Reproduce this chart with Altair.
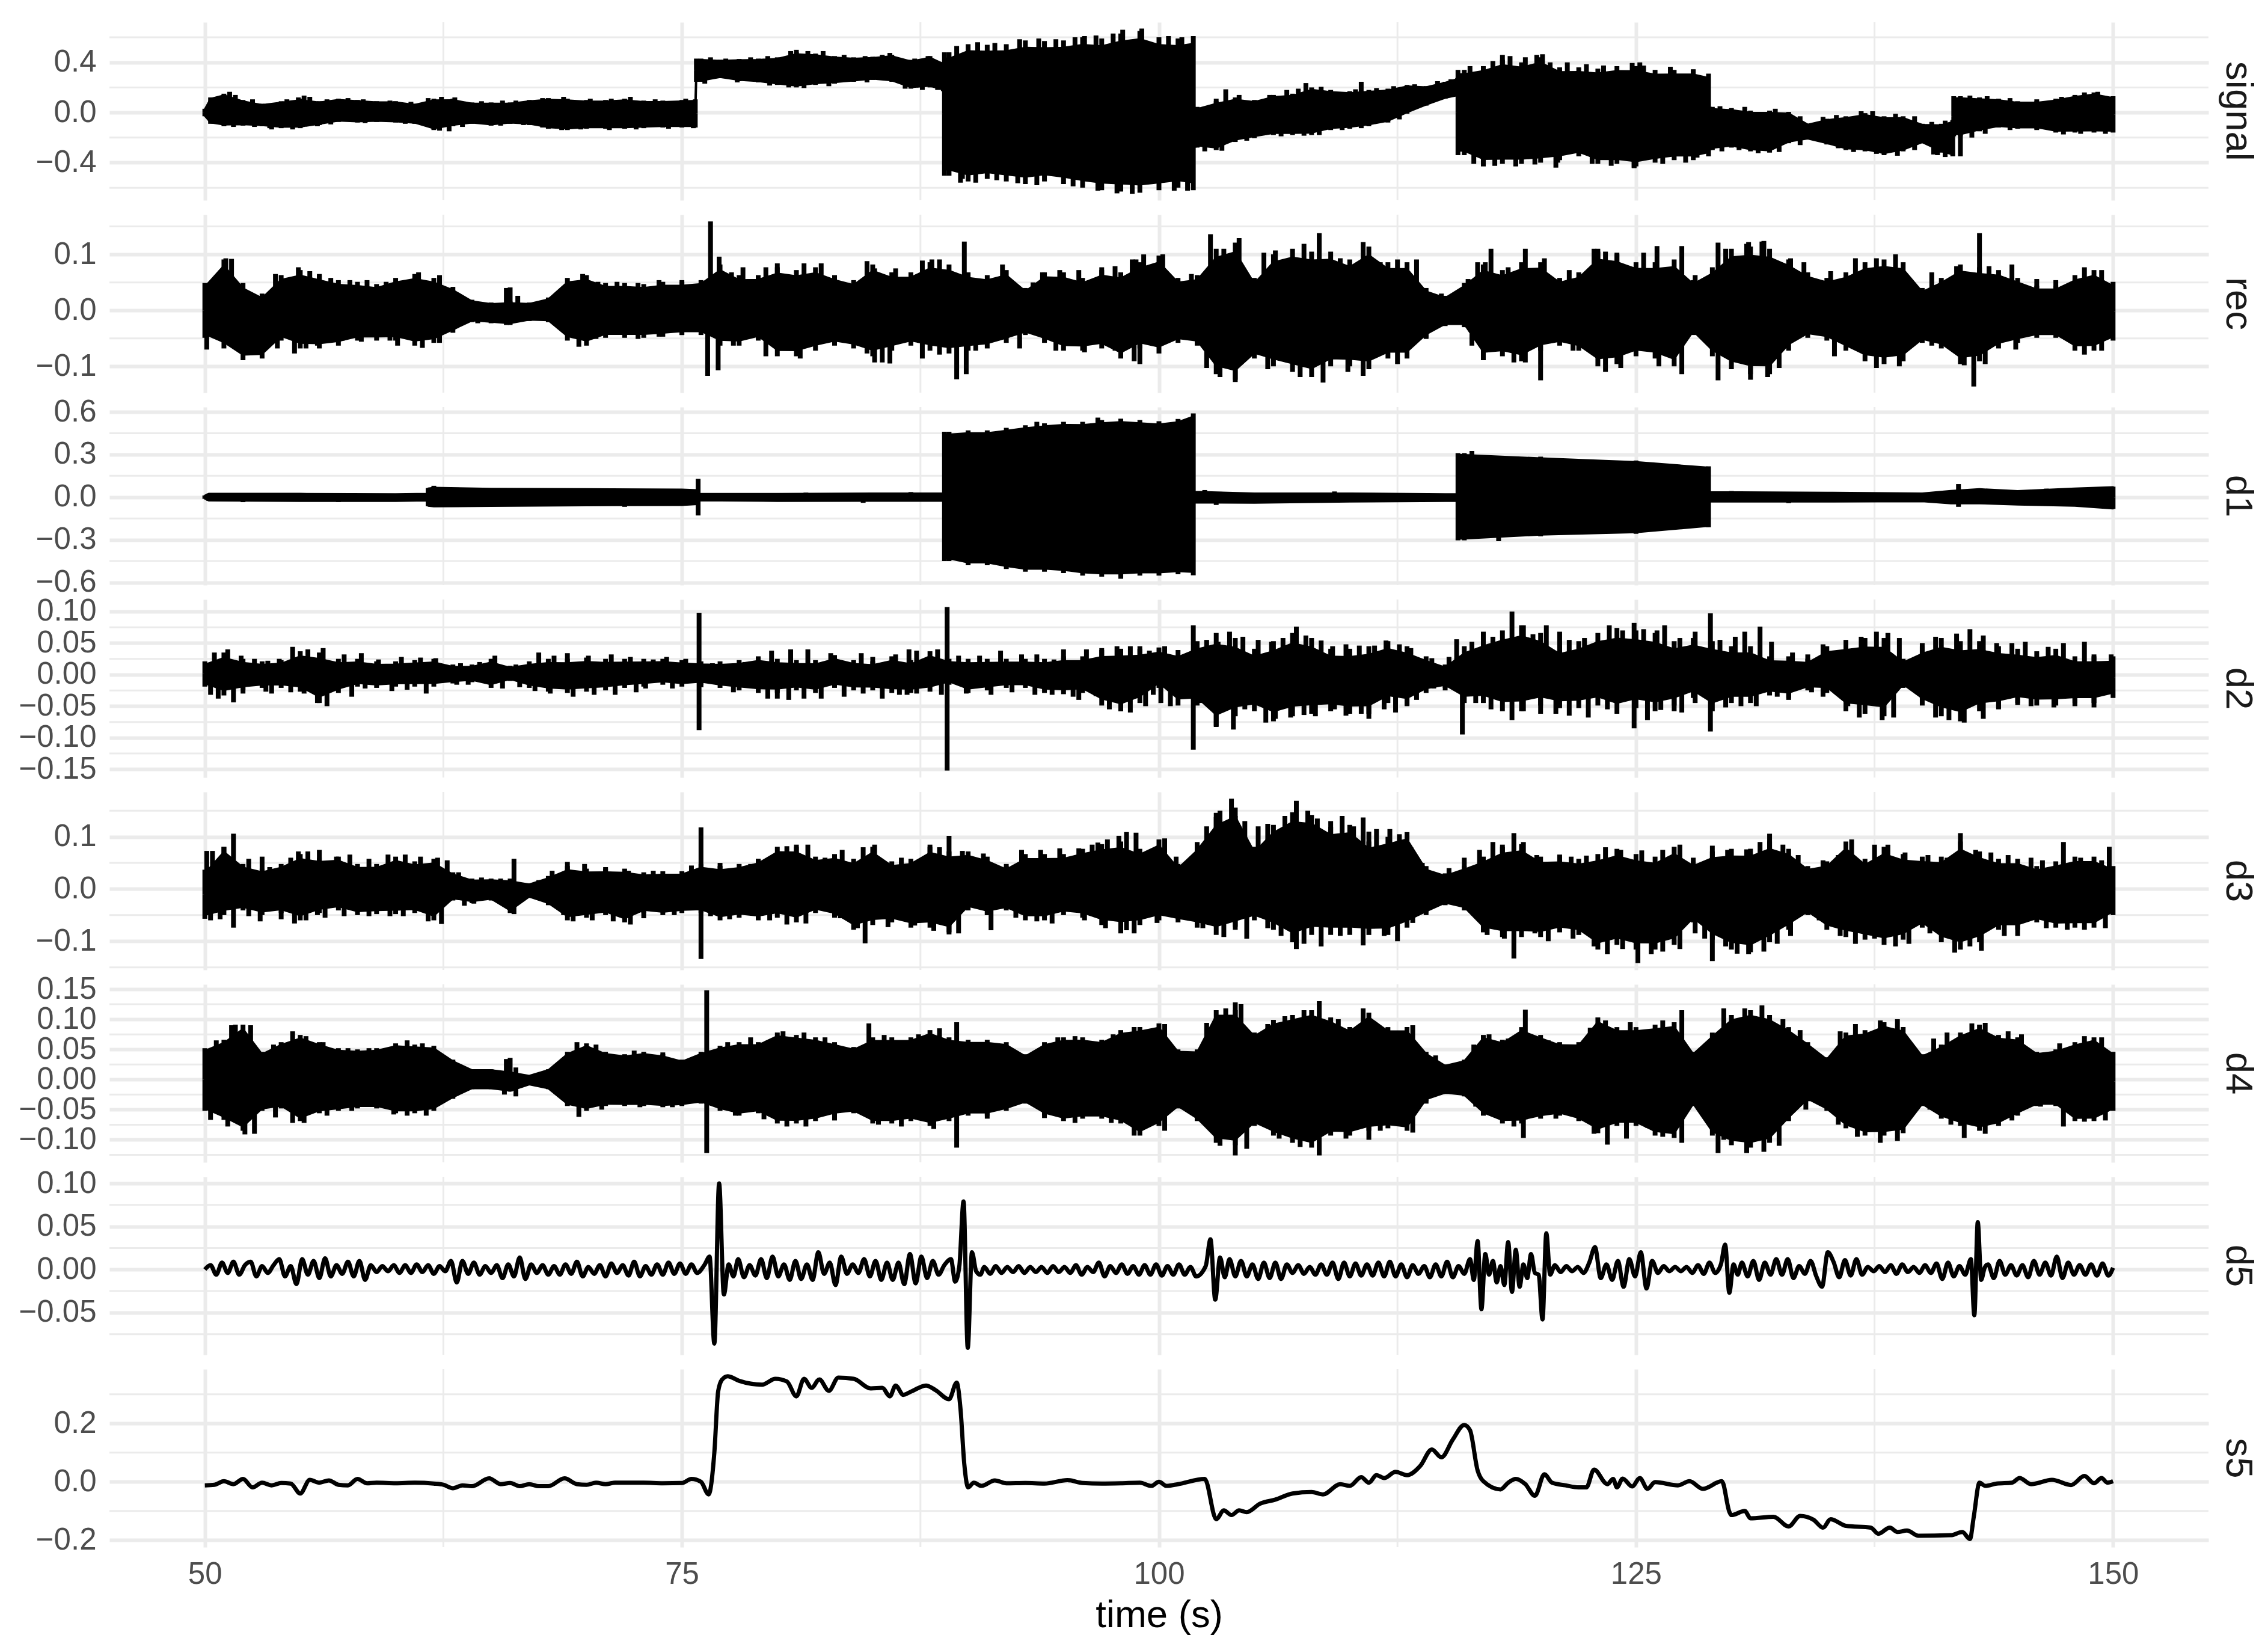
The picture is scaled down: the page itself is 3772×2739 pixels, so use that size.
import altair as alt
import numpy as np
import pandas as pd

FONT = "Liberation Sans"
ENV_T = list(range(50, 151))
MAJOR_X = [50, 75, 100, 125, 150]
MINOR_X = [62.5, 87.5, 112.5, 137.5]

sig_t = [50,50.3,51,52,53,54,55,56,57,58,59,60,61,62,63,64,65,66,67,68,69,70,71,72,73,74,75,75.7,75.76,76,77,78,79,80,81,82,83,84,85,86,87,88,88.7,88.76,89,90,91,92,93,94,95,96,97,98,99,100,101,101.8,101.85,102,103,104,105,106,107,108,109,110,111,112,113,114,115,115.65,115.67,116,117,118,119,120,121,122,123,124,125,126,127,128,128.8,128.85,129,130,131,132,133,134,135,136,137,138,139,140,141,141.6,141.65,142,143,144,145,146,147,148,149,150]
sig_up = [.03,.12,.15,.10,.07,.09,.11,.09,.11,.10,.09,.09,.07,.11,.11,.08,.08,.08,.10,.115,.11,.10,.10,.11,.095,.095,.10,.105,.43,.43,.42,.427,.43,.44,.48,.47,.45,.44,.445,.46,.42,.45,.40,.48,.48,.545,.54,.545,.575,.57,.575,.60,.59,.63,.65,.60,.59,.61,.04,.045,.09,.12,.10,.14,.15,.20,.18,.17,.18,.19,.22,.21,.245,.275,.34,.34,.37,.42,.40,.44,.36,.36,.35,.37,.37,.34,.34,.34,.31,.045,.045,.035,.015,.015,.005,-.09,-.05,-.03,-.005,-.03,-.03,-.09,-.09,-.06,.13,.13,.12,.11,.09,.09,.11,.14,.16,.13]
sig_lo = [-.03,-.09,-.11,-.105,-.11,-.125,-.125,-.10,-.075,-.08,-.075,-.08,-.09,-.14,-.11,-.09,-.105,-.09,-.10,-.13,-.14,-.13,-.13,-.13,-.125,-.12,-.12,-.12,.245,.245,.275,.25,.24,.22,.20,.22,.23,.245,.26,.245,.19,.20,.17,-.505,-.505,-.55,-.53,-.55,-.57,-.55,-.57,-.60,-.62,-.63,-.64,-.62,-.60,-.62,-.28,-.28,-.30,-.235,-.205,-.18,-.18,-.18,-.14,-.13,-.11,-.08,-.01,.055,.11,.13,-.34,-.34,-.41,-.41,-.41,-.40,-.38,-.35,-.41,-.41,-.43,-.40,-.38,-.38,-.35,-.30,-.30,-.28,-.31,-.32,-.245,-.215,-.255,-.30,-.31,-.34,-.31,-.245,-.32,-.35,-.19,-.19,-.15,-.12,-.13,-.13,-.16,-.16,-.16,-.16]
sig_peaks = [(51.3,.165),(53.5,-.135),(55.2,.135),(62.8,-.15),(81.0,.50),(82.4,.49),(89.6,-.56),(96.1,.61),(98.1,.66),(99.1,.67),(103.5,.185),(107.7,.235),(110.6,.245),(118.0,.46),(120.1,.465),(121.4,.40),(124.9,-.44),(117.0,-.43),(120.8,-.44),(125.2,.40),(128.2,-.36),(131.4,-.325),(140.8,-.34),(141.2,-.355),
(51.6,.14),(52.5,.105),(54.3,.105),(54.9,.12),(55.5,.125),(56.4,.105),(57.5,.115),(58.3,.105),(59.7,.095),(60.8,.085),(61.7,.115),(62.4,.125),(63.1,.12),(64.5,.09),(65.6,.095),(66.3,.095),(67.7,.115),(68.8,.125),(70.2,.11),(71.3,.11),(72.3,.125),(73.6,.105),(75.2,.11),(76.5,.44),(77.3,.43),(78.6,.44),(79.5,.45),(80.7,.49),(81.6,.49),(83.5,.46),(84.6,.45),(85.5,.46),(85.9,.475),(87.2,.43),(87.9,.45),(89.4,.53),(90.5,.56),(91.4,.555),(92.7,.585),(93.7,.59),(94.6,.585),(95.6,.60),(96.7,.615),(97.6,.63),(100.5,.61),(101.2,.60),(103,.11),(104.2,.14),(105.8,.14),(106.7,.18),(107.3,.19),(108.5,.205),(110.3,.185),(111.4,.195),(112.3,.21),(113.4,.225),(114.6,.25),(115.3,.265),(116.3,.37),(117.5,.41),(118.4,.45),(119.2,.44),(119.8,.46),(120.5,.40),(122.4,.385),(123.3,.375),(124.8,.395),(125.4,.375),(126.8,.365),(128,.345),(129.4,.05),(130.7,.045),(132.3,.03),(133.6,-.03),(134.8,-.035),(135.5,-.02),(136.8,.01),(137.4,.01),(138.6,-.01),(139.6,-.03),(140.5,-.075),(141.2,-.065),(142.5,.135),(143.4,.13),(144.6,.115),(146,.105),(147.3,.125),(148.5,.16),(149.2,.165),
(51.5,-.115),(52.6,-.115),(53.4,-.125),(54.6,-.135),(55.9,-.11),(56.6,-.095),(58.4,-.085),(60.5,-.09),(61.4,-.10),(62.3,-.145),(63.5,-.115),(65.5,-.105),(66.7,-.10),(67.7,-.12),(68.7,-.14),(69.7,-.135),(71.2,-.14),(72.6,-.135),(74.3,-.13),(75.6,-.125),(76.2,.23),(77.9,.24),(79.6,.215),(80.6,.20),(81.4,.195),(82.7,.21),(84.7,.24),(86.7,.19),(87.6,.18),(88.4,.18),(89.7,-.53),(90.4,-.56),(91.5,-.54),(92.6,-.565),(93.6,-.58),(95.5,-.59),(96.8,-.625),(97.8,-.645),(98.6,-.65),(100.8,-.625),(101.5,-.625),(102.4,-.31),(103.3,-.305),(104.6,-.225),(106.4,-.19),(107.6,-.185),(108.4,-.18),(109.6,-.14),(110.6,-.125),(112.6,-.055),(116.5,-.41),(117.6,-.425),(118.7,-.43),(119.7,-.415),(120.9,-.40),(122.7,-.41),(123.7,-.425),(124.9,-.445),(126.4,-.41),(127.6,-.40),(129.5,-.31),(130.4,-.30),(131.4,-.32),(132.5,-.315),(133.6,-.26),(135.6,-.285),(136.4,-.315),(137.6,-.33),(138.7,-.345),(139.6,-.30),(140.6,-.335),(142,-.35),(142.6,-.2),(143.3,-.17),(144.6,-.14),(146,-.14),(147.4,-.175),(148.3,-.17),(149.6,-.17)]

rec_up = [.049,.091,.049,.030,.063,.072,.063,.054,.051,.047,.058,.065,.058,.042,.019,.014,.016,.014,.023,.058,.063,.049,.049,.047,.051,.051,.054,.082,.063,.063,.077,.072,.077,.063,.054,.082,.068,.068,.086,.082,.068,.063,.072,.040,.068,.068,.058,.072,.068,.086,.098,.058,.063,.110,.121,.058,.100,.110,.105,.105,.091,.114,.086,.086,.040,.026,.049,.082,.072,.086,.086,.058,.068,.105,.100,.086,.086,.091,.054,.077,.110,.114,.110,.091,.068,.058,.068,.086,.091,.086,.040,.058,.082,.077,.072,.058,.044,.044,.063,.072,.051]
rec_lo = [-.049,-.068,-.089,-.086,-.054,-.068,-.068,-.063,-.054,-.054,-.054,-.063,-.058,-.040,-.021,-.023,-.026,-.019,-.021,-.054,-.063,-.049,-.049,-.049,-.047,-.044,-.044,-.063,-.063,-.054,-.082,-.082,-.072,-.063,-.068,-.082,-.072,-.063,-.072,-.077,-.072,-.068,-.058,-.044,-.058,-.072,-.072,-.068,-.086,-.068,-.077,-.058,-.063,-.114,-.124,-.086,-.100,-.110,-.119,-.100,-.100,-.105,-.086,-.086,-.049,-.028,-.030,-.086,-.082,-.091,-.072,-.063,-.072,-.100,-.096,-.082,-.086,-.100,-.044,-.082,-.105,-.114,-.114,-.072,-.049,-.054,-.072,-.091,-.096,-.091,-.058,-.068,-.096,-.091,-.068,-.058,-.049,-.049,-.072,-.072,-.054]
rec_peaks = [(51.4,.092),(66.0,.041),(76.35,-.117),(76.5,.159),(76.9,-.107),(76.95,.096),(84.7,.088),(85.9,-.095),(89.4,-.123),(89.8,.123),(89.9,-.114),(93.4,.050),(98.6,.091),(102.7,.136),(104.2,.129),(104.0,-.128),(108.4,.138),(108.6,-.129),(110.7,.122),(110.7,-.117),(117.4,.110),(119.2,.110),(120.0,-.125),(122.8,.110),(126.1,.115),(130.9,.122),(131.6,.123),(142.7,-.136),(143.0,.138),
(51.1,.093),(53.7,.065),(54.9,.077),(55.5,.070),(56.0,.065),(56.6,.058),(57.6,.054),(58.5,.054),(59.5,.051),(61.2,.068),(62.3,.063),(65.8,.040),(66.4,.026),(69.8,.065),(70.6,.051),(71.6,.051),(72.7,.049),(73.8,.054),(75.0,.054),(77.6,.068),(78.2,.077),(79.4,.077),(80.0,.084),(81.4,.084),(82.3,.084),(85.1,.075),(86.2,.075),(87.6,.089),(88.1,.091),(88.5,.091),(91.8,.082),(93.9,.068),(94.8,.072),(95.8,.072),(97.0,.077),(97.7,.079),(98.8,.091),(99.2,.100),(100.2,.100),(100.8,.056),(101.7,.065),(103.4,.110),(105.5,.103),(106.1,.107),(107.6,.119),(109.5,.093),(111.6,.086),(112.5,.091),(113.5,.091),(114.8,.030),(116.2,.056),(116.7,.086),(117.1,.086),(118.3,.077),(120.2,.093),(121.5,.072),(123.0,.110),(123.4,.105),(124.0,.103),(125.4,.103),(127.4,.115),(128.1,.063),(129.3,.121),(129.7,.110),(130.8,.119),(131.7,.124),(133.1,.093),(133.8,.086),(135.2,.070),(136.5,.093),(137.6,.093),(138.6,.100),(140.5,.068),(141.8,.079),(143.5,.079),(144.7,.082),(146.0,.056),(147.0,.054),(148.5,.077),(149.4,.072),
(50.1,-.070),(53.8,-.068),(54.7,-.077),(55.3,-.068),(55.9,-.063),(57.2,-.054),(58.2,-.056),(59.7,-.054),(60.1,-.063),(61.4,-.067),(62.3,-.058),(64.3,-.023),(65.8,-.026),(69.6,-.065),(70.5,-.051),(72.7,-.051),(73.8,-.047),(75.0,-.044),(77.7,-.063),(79.4,-.082),(81.2,-.086),(84.7,-.077),(85.1,-.093),(85.5,-.093),(87.6,-.086),(88.5,-.079),(90.4,-.072),(92.7,-.068),(94.6,-.072),(96.1,-.075),(97.7,-.072),(98.7,-.091),(99.0,-.096),(102.5,-.103),(103.2,-.119),(105.7,-.105),(107.4,-.119),(109.9,-.110),(112.5,-.096),(114.0,-.051),(116.4,-.063),(117.0,-.089),(118.6,-.093),(119.2,-.093),(121.7,-.072),(123.4,-.110),(124.2,-.103),(126.2,-.100),(127.4,-.114),(129.3,-.125),(131.0,-.124),(131.9,-.119),(132.5,-.103),(135.4,-.082),(137.6,-.103),(138.8,-.100),(140.5,-.063),(142.2,-.098),(143.3,-.096),(144.9,-.070),(148.5,-.079),(149.4,-.072)]

d1_t = [50,50.2,55,60,61.65,61.7,62,65,70,75,75.8,75.85,80,85,88.7,88.76,89,90,91,92,93,94,95,96,97,98,99,100,101,101.8,101.85,105,110,115,115.65,115.67,116,120,125,128.8,128.85,135,140,141.5,143,145,148,150]
d1_up = [.012,.025,.025,.022,.025,.064,.070,.062,.060,.056,.052,.024,.024,.028,.028,.46,.46,.47,.47,.488,.506,.52,.53,.53,.543,.552,.543,.534,.55,.59,.04,.028,.028,.022,.022,.31,.31,.285,.258,.217,.037,.033,.028,.046,.059,.046,.064,.074]
d1_lo = [-.012,-.025,-.028,-.028,-.025,-.064,-.068,-.065,-.060,-.058,-.052,-.024,-.028,-.028,-.028,-.45,-.45,-.479,-.479,-.506,-.525,-.525,-.534,-.552,-.56,-.56,-.552,-.552,-.543,-.55,-.04,-.042,-.033,-.028,-.028,-.304,-.304,-.276,-.258,-.212,-.033,-.033,-.031,-.046,-.046,-.055,-.064,-.083]
d1_peaks = [(62.0,.08),(75.85,.129),(75.85,-.129),(109.2,.04),(141.9,.092),(141.9,-.068),(102.4,.05),(103.0,-.055),(52.0,-.035),(57.0,-.034),(72.0,-.068),(81.5,.032),(84.5,-.040),(87.0,.036),(93.6,.53),(96.8,.56),(98.0,-.575),(117.8,-.31),(116.4,.325),(130.0,.043),(133.0,-.042),(146.5,.060),(149.0,-.072)]

d2_up = [.021,.035,.025,.021,.023,.037,.035,.025,.025,.021,.021,.023,.025,.016,.016,.025,.014,.021,.025,.025,.027,.025,.025,.025,.025,.023,.021,.021,.023,.029,.025,.023,.023,.031,.023,.021,.029,.023,.037,.025,.025,.025,.025,.025,.025,.029,.029,.039,.041,.041,.043,.039,.053,.066,.058,.041,.053,.066,.058,.041,.041,.045,.053,.045,.029,.016,.045,.058,.070,.078,.066,.045,.053,.066,.074,.070,.066,.053,.058,.053,.045,.045,.029,.029,.025,.045,.053,.058,.058,.025,.045,.058,.053,.053,.045,.041,.037,.041,.029,.029,.029]
d2_lo = [-.019,-.033,-.025,-.021,-.021,-.027,-.045,-.029,-.019,-.021,-.019,-.019,-.019,-.014,-.012,-.021,-.010,-.021,-.027,-.029,-.027,-.025,-.021,-.019,-.016,-.019,-.016,-.021,-.025,-.029,-.029,-.025,-.029,-.021,-.025,-.025,-.029,-.029,-.027,-.016,-.029,-.025,-.021,-.021,-.029,-.031,-.029,-.049,-.058,-.045,-.021,-.049,-.049,-.082,-.066,-.058,-.074,-.066,-.062,-.058,-.062,-.062,-.045,-.049,-.029,-.021,-.045,-.045,-.058,-.058,-.049,-.053,-.053,-.049,-.062,-.053,-.058,-.049,-.037,-.058,-.045,-.045,-.033,-.037,-.025,-.029,-.058,-.062,-.066,-.021,-.049,-.066,-.074,-.058,-.053,-.045,-.049,-.049,-.045,-.045,-.037]
d2_peaks = [(75.9,.098),(75.9,-.088),(88.9,.107),(88.9,-.152),(101.8,.078),(101.8,-.119),
(50.5,.035),(51.2,.040),(51.9,.030),(52.6,.025),(53.3,.022),(53.9,.025),(54.6,.044),(55.4,.040),(56.2,.042),(57.3,.032),(58.2,.034),(59.1,.024),(60.3,.028),(61.3,.027),(62.1,.026),(63.4,.018),(64.4,.020),(65.2,.030),(66.3,.016),(67.5,.035),(68.3,.030),(69.0,.034),(70.1,.030),(71.3,.032),(72.3,.028),(73.5,.024),(74.2,.028),(75.2,.025),(76.6,.018),(78.3,.020),(79.7,.038),(80.7,.040),(81.6,.040),(82.8,.034),(84.4,.034),(85.0,.028),(86.2,.032),(86.9,.040),(87.3,.038),(88.4,.040),(89.5,.030),(90.6,.030),(91.7,.038),(92.8,.032),(93.6,.032),(94.5,.024),(95.0,.040),(96.2,.040),(97.0,.042),(97.8,.045),(98.5,.045),(99.0,.045),(99.5,.038),(100.3,.045),(101.0,.030),(102.5,.055),(103.1,.052),(103.7,.068),(104.4,.060),(105.2,.055),(105.9,.052),(106.5,.058),(107.2,.076),(107.7,.062),(108.5,.054),(109.1,.045),(109.8,.048),(110.5,.046),(111.3,.046),(111.9,.054),(112.6,.048),(113.2,.042),(114.3,.026),(115.2,.028),(115.6,.056),(116.4,.052),(117.0,.068),(117.5,.060),(118.5,.100),(119.1,.078),(119.6,.064),(120.3,.078),(121.0,.068),(121.5,.055),(122.3,.058),(123.6,.078),(124.3,.070),(124.9,.082),(125.4,.072),(126.1,.070),(126.5,.078),(127.3,.058),(128.1,.068),(128.9,.097),(129.4,.055),(130.2,.060),(130.7,.068),(131.5,.076),(132.1,.052),(133.2,.035),(134.0,.032),(134.8,.048),(136.0,.055),(136.8,.060),(137.6,.068),(138.2,.066),(138.8,.058),(140.0,.050),(140.7,.060),(141.8,.065),(142.5,.072),(143.2,.062),(143.9,.050),(144.7,.050),(145.4,.052),(146.6,.044),(147.4,.050),(148.5,.052),(149.0,.032),(149.9,.032),
(50.3,-.032),(50.7,-.038),(51.5,-.044),(52.0,-.030),(53.2,-.027),(53.5,-.030),(54.5,-.028),(55.2,-.030),(55.9,-.045),(56.4,-.050),(57.7,-.035),(58.4,-.022),(59.8,-.026),(60.6,-.024),(61.6,-.030),(63.2,-.016),(63.8,-.016),(65.6,-.022),(66.5,-.020),(67.3,-.026),(68.1,-.030),(69.3,-.035),(70.4,-.032),(71.5,-.032),(72.6,-.028),(73.1,-.022),(74.5,-.022),(76.0,-.020),(77.7,-.028),(79.5,-.038),(80.0,-.038),(80.6,-.040),(81.4,-.038),(82.3,-.038),(83.5,-.035),(84.5,-.030),(85.5,-.038),(86.4,-.032),(86.8,-.032),(87.3,-.030),(88.6,-.032),(89.9,-.030),(91.2,-.032),(92.3,-.028),(93.5,-.032),(94.4,-.032),(95.5,-.035),(95.8,-.040),(96.7,-.034),(97.4,-.055),(98.0,-.058),(98.5,-.060),(99.3,-.050),(99.7,-.032),(100.1,-.045),(100.6,-.050),(102.2,-.045),(103.0,-.083),(103.9,-.087),(104.5,-.055),(105.6,-.076),(106.1,-.070),(106.9,-.068),(107.6,-.064),(108.2,-.066),(109.2,-.055),(109.8,-.065),(110.6,-.062),(111.0,-.070),(111.8,-.055),(112.4,-.060),(113.0,-.050),(113.5,-.040),(114.4,-.022),(115.0,-.025),(115.9,-.095),(116.6,-.045),(117.4,-.055),(118.5,-.072),(119.1,-.058),(120.0,-.062),(120.8,-.062),(121.5,-.065),(122.5,-.068),(123.5,-.055),(124.9,-.085),(125.6,-.072),(126.3,-.056),(127.0,-.058),(127.4,-.060),(128.1,-.045),(128.9,-.090),(129.7,-.052),(130.5,-.050),(131.3,-.050),(132.4,-.035),(133.0,-.040),(134.2,-.028),(134.8,-.035),(136.1,-.050),(136.7,-.068),(137.9,-.072),(138.5,-.068),(139.7,-.022),(140.7,-.068),(141.4,-.072),(142.2,-.076),(143.2,-.070),(144.0,-.055),(145.0,-.048),(145.7,-.050),(146.9,-.052),(148.0,-.050),(149.0,-.052)]

d3_up = [.037,.081,.048,.039,.048,.067,.060,.062,.048,.048,.062,.053,.058,.032,.020,.020,.020,.011,.025,.044,.039,.039,.039,.032,.034,.034,.048,.044,.048,.058,.081,.081,.062,.067,.058,.081,.053,.058,.081,.072,.072,.062,.044,.067,.067,.067,.077,.086,.091,.077,.095,.048,.086,.138,.156,.081,.123,.147,.142,.119,.123,.091,.100,.109,.044,.030,.044,.062,.081,.086,.062,.062,.058,.067,.077,.067,.062,.081,.053,.072,.077,.077,.091,.077,.044,.053,.091,.058,.081,.067,.062,.062,.091,.072,.058,.058,.044,.053,.062,.062,.044]
d3_lo = [-.057,-.050,-.041,-.050,-.046,-.060,-.046,-.041,-.050,-.048,-.048,-.046,-.060,-.022,-.027,-.022,-.046,-.017,-.031,-.060,-.055,-.050,-.064,-.046,-.050,-.046,-.046,-.060,-.055,-.060,-.055,-.064,-.046,-.055,-.078,-.069,-.064,-.074,-.074,-.083,-.041,-.050,-.041,-.060,-.060,-.050,-.055,-.069,-.074,-.069,-.060,-.064,-.074,-.088,-.078,-.060,-.078,-.102,-.088,-.088,-.088,-.088,-.088,-.074,-.050,-.031,-.041,-.083,-.092,-.092,-.092,-.083,-.088,-.116,-.107,-.116,-.116,-.107,-.064,-.097,-.116,-.121,-.102,-.078,-.050,-.078,-.092,-.097,-.107,-.097,-.074,-.102,-.116,-.102,-.078,-.078,-.064,-.074,-.074,-.074,-.050]
d3_peaks = [(50.1,.073),(51.5,.106),(51.5,-.074),(66.2,.058),(66.2,-.048),(76.0,.118),(76.0,-.134),(84.6,-.104),(89.0,.102),(89.0,-.087),(91.2,-.079),(96.8,.089),(98.3,.109),(98.3,-.079),(103.8,.173),(103.0,.146),(105.2,.120),(107.2,.169),(107.2,-.115),(110.7,.137),(118.6,.107),(118.6,-.133),(125.1,-.142),(129.0,-.138),(130.3,-.124),(132.0,.106),(136.3,.095),(141.7,-.122),(142.0,.107),(147.4,.090),(149.8,.081),
(50.4,.073),(51.0,.081),(52.3,.058),(53.0,.062),(53.4,.042),(54.5,.060),(54.9,.072),(55.4,.072),(56.0,.075),(56.9,.062),(57.6,.066),(58.6,.058),(59.6,.066),(60.5,.066),(61.3,.062),(62.2,.060),(62.7,.055),(63.3,.032),(64.5,.022),(65.5,.020),(67.5,.017),(68.2,.035),(69.0,.052),(69.9,.048),(71.0,.042),(72.2,.035),(73.5,.035),(75.5,.045),(77.0,.050),(78.6,.048),(79.0,.058),(80.5,.082),(81.0,.085),(81.6,.085),(82.5,.060),(83.4,.075),(84.5,.080),(85.1,.085),(86.5,.060),(88.0,.085),(88.5,.080),(89.7,.073),(90.8,.068),(92.0,.048),(92.8,.075),(93.8,.075),(94.8,.078),(95.8,.078),(96.5,.085),(97.3,.095),(97.9,.102),(98.8,.108),(99.6,.070),(100.3,.097),(100.9,.062),(102.0,.090),(102.5,.120),(103.2,.150),(104.0,.140),(104.5,.130),(105.7,.125),(106.6,.140),(107.8,.150),(108.3,.135),(109.0,.130),(109.6,.140),(110.2,.120),(111.0,.110),(111.4,.115),(112.1,.115),(112.6,.105),(113.2,.080),(113.8,.050),(115.2,.040),(116.0,.060),(116.8,.075),(117.5,.090),(118.0,.085),(119.1,.090),(119.8,.065),(121.0,.066),(121.6,.062),(122.4,.064),(123.4,.080),(124.2,.075),(125.3,.074),(126.4,.075),(127.3,.085),(128.0,.060),(129.0,.083),(129.8,.075),(130.8,.076),(131.5,.090),(132.7,.085),(133.5,.065),(134.8,.055),(135.6,.065),(137.5,.085),(138.2,.085),(139.1,.070),(140.3,.065),(141.3,.060),(142.8,.075),(143.6,.070),(144.5,.065),(145.7,.060),(146.3,.055),(148.3,.060),(149.4,.055),
(50.3,-.060),(50.8,-.058),(52.3,-.052),(52.9,-.062),(54.0,-.058),(54.7,-.066),(55.3,-.060),(55.9,-.050),(56.3,-.055),(57.3,-.052),(58.6,-.052),(59.7,-.052),(60.4,-.052),(61.7,-.062),(62.4,-.067),(63.6,-.032),(64.1,-.028),(65.4,-.026),(68.8,-.050),(69.3,-.062),(70.3,-.060),(71.4,-.062),(72.3,-.068),(73.0,-.056),(74.6,-.050),(76.5,-.052),(77.5,-.058),(78.0,-.050),(79.6,-.060),(80.5,-.068),(81.5,-.066),(83.3,-.056),(84.2,-.075),(85.8,-.073),(87.2,-.070),(88.2,-.080),(89.5,-.085),(91.0,-.050),(92.5,-.055),(93.6,-.062),(94.4,-.066),(96.1,-.060),(97.2,-.075),(98.0,-.085),(98.7,-.085),(99.9,-.065),(102.3,-.075),(103.4,-.092),(104.0,-.072),(104.6,-.095),(105.7,-.075),(106.4,-.090),(107.6,-.105),(108.5,-.110),(109.5,-.090),(110.7,-.108),(111.8,-.090),(112.5,-.100),(113.3,-.065),(114.0,-.045),(116.4,-.045),(117.2,-.088),(118.1,-.095),(119.7,-.085),(120.4,-.100),(121.7,-.095),(122.8,-.110),(123.5,-.125),(124.3,-.115),(125.8,-.125),(126.4,-.120),(127.3,-.115),(128.1,-.085),(128.6,-.095),(129.7,-.110),(130.9,-.125),(131.7,-.120),(132.4,-.105),(133.1,-.090),(134.6,-.060),(135.7,-.090),(136.5,-.105),(137.5,-.095),(138.6,-.110),(139.3,-.105),(140.4,-.085),(142.5,-.110),(143.1,-.118),(144.3,-.090),(145.0,-.090),(146.5,-.075),(147.6,-.078),(148.5,-.078),(149.6,-.075)]

d4_up = [.052,.066,.091,.046,.062,.074,.062,.052,.050,.052,.060,.058,.056,.033,.017,.017,.013,.007,.017,.046,.060,.046,.042,.046,.042,.033,.046,.056,.062,.062,.078,.074,.070,.062,.054,.070,.070,.070,.082,.070,.066,.066,.062,.042,.062,.070,.070,.066,.082,.087,.093,.050,.050,.115,.115,.078,.099,.107,.115,.103,.087,.111,.087,.087,.046,.025,.033,.074,.066,.087,.074,.062,.062,.103,.087,.087,.091,.095,.046,.078,.107,.115,.107,.087,.062,.037,.078,.082,.095,.087,.042,.058,.078,.091,.074,.070,.046,.050,.062,.070,.046]
d4_lo = [-.052,-.067,-.085,-.052,-.048,-.069,-.056,-.052,-.048,-.048,-.056,-.056,-.052,-.032,-.016,-.016,-.020,-.009,-.016,-.044,-.052,-.044,-.044,-.044,-.046,-.044,-.040,-.052,-.060,-.056,-.073,-.073,-.069,-.060,-.056,-.073,-.073,-.069,-.077,-.069,-.060,-.060,-.052,-.040,-.060,-.069,-.065,-.065,-.073,-.093,-.077,-.048,-.069,-.105,-.109,-.077,-.093,-.105,-.113,-.093,-.093,-.085,-.081,-.085,-.036,-.024,-.028,-.060,-.073,-.073,-.065,-.060,-.069,-.089,-.077,-.077,-.093,-.097,-.044,-.093,-.109,-.113,-.105,-.069,-.036,-.052,-.081,-.093,-.093,-.089,-.044,-.065,-.077,-.085,-.077,-.060,-.044,-.044,-.069,-.069,-.052]
d4_peaks = [(51.6,.091),(52.1,-.091),(66.0,.036),(76.3,.148),(76.3,-.122),(84.8,.093),(89.4,.095),(89.4,-.113),(98.7,.087),(98.7,-.093),(104.0,.128),(104.0,-.126),(108.4,.130),(108.4,-.126),(110.7,.118),(119.2,.116),(119.1,-.097),(129.3,-.122),(130.8,-.122),(131.6,.123),(142.2,-.097),(142.6,.093),(147.4,-.078),
(50.6,.065),(51.4,.090),(52.4,.090),(53.6,.058),(54.6,.080),(55.3,.072),(56.2,.062),(57.5,.052),(58.6,.052),(59.6,.050),(60.6,.065),(61.4,.060),(65.8,.034),(66.3,.020),(69.5,.062),(70.5,.058),(72.5,.048),(74.0,.045),(77.4,.062),(78.6,.070),(80.3,.080),(81.4,.078),(82.5,.070),(85.6,.074),(87.4,.075),(88.5,.085),(91.6,.058),(94.7,.070),(95.6,.072),(97.6,.075),(100.3,.092),(102.5,.094),(103.5,.118),(104.3,.125),(105.7,.092),(106.6,.105),(107.6,.115),(109.4,.100),(111.5,.090),(113.3,.090),(114.5,.040),(116.5,.058),(117.3,.075),(118.3,.068),(118.9,.075),(120.4,.065),(122.6,.086),(123.4,.098),(124.7,.095),(126.4,.098),(127.4,.115),(129.6,.118),(130.7,.118),(132.7,.100),(133.6,.082),(135.7,.080),(136.5,.092),(137.8,.098),(138.7,.100),(140.6,.068),(141.3,.078),(143.3,.094),(144.5,.080),(145.2,.075),(147.2,.060),(148.5,.072),(149.4,.070),
(50.3,-.067),(51.2,-.078),(52.6,-.090),(53.7,-.063),(54.6,-.072),(55.2,-.072),(56.4,-.060),(57.7,-.052),(59.9,-.058),(60.6,-.060),(61.6,-.060),(65.7,-.025),(66.3,-.028),(69.6,-.062),(70.8,-.050),(72.8,-.046),(74.5,-.046),(77.8,-.060),(79.3,-.066),(80.5,-.078),(81.5,-.078),(83.0,-.068),(85.3,-.075),(86.5,-.078),(88.2,-.082),(91.0,-.065),(94.0,-.064),(95.6,-.072),(97.5,-.072),(100.3,-.085),(103.2,-.110),(104.6,-.115),(106.3,-.098),(107.4,-.112),(109.8,-.098),(111.0,-.100),(111.6,-.085),(113.3,-.088),(114.0,-.040),(116.6,-.045),(117.5,-.060),(118.6,-.078),(120.8,-.065),(122.8,-.090),(123.5,-.108),(124.5,-.098),(125.6,-.080),(126.4,-.095),(127.4,-.105),(129.6,-.100),(131.7,-.120),(132.5,-.110),(133.9,-.050),(135.6,-.075),(136.6,-.095),(137.8,-.105),(138.7,-.102),(140.4,-.050),(141.5,-.075),(143.3,-.090),(144.7,-.068),(146.2,-.045),(148.5,-.070),(149.6,-.068)]

d5_segments = [
    (50.0, .3, [0,.005,-.006,.008,-.004,.009,-.006,.005,.009,-.008,.004,-.004,.005,.012,-.008,.004,-.017,.012,-.006,.010,-.010,.013,-.008,.005,-.005,.009,-.008,.010,-.012,.005,-.003,.004,-.002,.005,-.004,.005,-.004,.006,-.003,.005,-.005,.004,-.002,.010,-.015,.010,-.005,.008,-.006,.004,-.004,.005,-.010,.006,-.008,.014,-.011,.006,-.004,.005,-.006,.004,-.006,.006,-.005,.009,-.008,.003,-.005,.005,-.008,.007,-.004,.005,-.007,.009,-.008,.004,-.006,.006,-.006,.008,-.005,.007,-.005,.006,-.004]),
    (76.2, .25, [.006,.015,-.086,.100,-.029,.006,-.008]),
    (77.95, .3, [.012,-.009,.005,-.007,.012,-.010,.015,-.008,.006,-.012,.010,-.011,.006,-.012,.020,-.005,.008,-.018,.015,-.005,.006,-.004,.012,-.008,.010,-.012,.008,-.012,.008,-.017,.018,-.016,.015,-.010,.010,-.006,.005]),
    (89.1, .22, [.012,-.014,.004,.079,-.091,.020,-.002,-.006]),
    (90.85, .3, [.003,-.005,.004,-.004,.003,-.003,.004,-.004,.003,-.003,.003,-.004,.004,-.003,.003,-.004,.005,-.006,.003,-.003,.008,-.008,.004,-.004,.006,-.005,.004,-.006,.005,-.006,.006,-.007,.004,-.006,.006,-.006,.003,-.008]),
    (102.45, .25, [.004,.035,-.035,.014,-.009]),
    (103.7, .3, [.012,-.008,.010,-.008,.006,-.011,.008,-.010,.008,-.011,.006,-.004,.005,-.005,.003,-.006,.006,-.006,.008,-.011,.008,-.008,.007,-.007,.006,-.007,.008,-.008,.009,-.008,.006,-.009,.005,-.005,.004,-.009,.006,-.008,.009,-.009,.004,-.005]),
    (116.3, .2, [.012,-.012,.033,-.046,.018,-.006,.010,-.015,.004,-.018,.032,-.026,.023,-.020,.006,-.010,.018,-.004,-.006,-.058,.042,-.006]),
    (120.75, .3, [.005,-.003,.004,-.002,.003,-.004,.008,.026,-.010,.006,-.012,.010,-.020,.012,-.008,.020,-.022,.010,-.004,.004,-.002,.003,-.002,.003,-.004,.005,-.005,.008,-.004]),
    (129.45, .22, [.006,.029,-.027,.006,-.006]),
    (130.55, .3, [.008,-.008,.010,-.012,.008,-.006,.012,-.006,.012,-.010,.004,-.005,.010,-.008,-.020,.020,.009,-.009,.011,-.007,.012,-.006,.003,-.002,.004,-.003,.005,-.005,.006,-.003,.003,-.004,.005,-.004,.007,-.011,.008,-.008,.004,-.006]),
    (142.55, .18, [.012,-.053,.055,-.012,.002]),
    (143.45, .3, [.006,-.010,.010,-.006,.005,-.007,.005,-.009,.010,-.006,.008,-.007,.015,-.010,.008,-.006,.005,-.006,.006,-.007,.007,-.007]),
    (150.0, .3, [.002]),
]
d5_t = []
d5_v = []
for start, step, vals in d5_segments:
    for i, v in enumerate(vals):
        d5_t.append(round(start + step * i, 2))
        d5_v.append(v)

s5_t = [50,50.5,51,51.5,52,52.5,53,53.5,54,54.5,55,55.5,56,56.5,57,57.5,58,58.5,59,60,61,62,62.5,63,63.5,64,64.9,65.5,66,66.5,67,67.5,68,68.85,69.5,70,70.5,71,71.5,72,73,74,75,75.5,76,76.4,76.7,76.9,77.1,77.4,78,79.2,79.9,80.5,81,81.4,81.8,82.2,82.7,83.2,84,84.9,85.5,85.9,86.2,86.6,87,87.8,88.3,89,89.4,89.6,89.8,90,90.3,90.7,91.4,92,93,94,95.2,96,97,98,99,99.6,100,100.4,101,102.4,103,103.4,103.8,104.2,104.6,105.3,106.1,107,108,108.6,109.5,110,110.6,111,111.4,111.8,112.4,113,113.7,114.3,114.8,115.4,116,116.3,116.7,117,117.9,118.3,118.7,119.2,119.7,120.2,120.6,121.3,122,122.4,122.8,123.5,123.8,124,124.3,124.8,125.2,125.6,126,127.2,127.8,128.5,129.5,129.9,130,130.7,131,132.2,133,133.6,134.3,134.8,135.2,136,137.3,137.7,138.3,138.7,139.2,139.8,141.5,142.1,142.5,142.7,143,143.3,143.9,144.7,145.1,145.7,146.8,147.8,148.5,149,149.4,149.7,150]
s5_v = [-.012,-.01,.002,-.008,.01,-.019,-.003,-.012,-.004,-.006,-.04,.007,-.003,.005,-.01,-.012,.01,-.005,-.003,-.005,-.003,-.006,-.01,-.022,-.012,-.015,.012,-.008,-.004,-.015,-.008,-.015,-.015,.012,-.008,-.01,-.003,-.008,-.003,-.003,-.003,-.005,-.004,.01,0,-.043,.10,.31,.35,.362,.346,.333,.353,.344,.293,.353,.322,.351,.312,.357,.353,.32,.322,.293,.33,.298,.309,.33,.314,.283,.34,.25,.06,-.019,-.003,-.014,.005,-.005,-.004,-.006,.006,-.004,-.006,-.005,-.003,-.014,0,-.014,-.008,.01,-.128,-.098,-.114,-.098,-.104,-.075,-.061,-.04,-.035,-.043,-.008,-.014,.016,-.003,.023,.013,.034,.023,.055,.111,.084,.145,.195,.177,.039,.002,-.026,-.003,.01,-.008,-.048,.026,-.003,-.012,-.019,-.019,.042,-.008,.01,-.019,.011,-.016,.013,-.024,-.001,-.012,.002,-.024,.002,-.104,-.114,-.10,-.125,-.12,-.153,-.117,-.13,-.157,-.128,-.151,-.157,-.178,-.157,-.172,-.167,-.185,-.183,-.172,-.196,-.12,-.003,-.014,-.006,-.003,.013,-.008,.007,-.011,.02,-.005,.013,-.003,.002]

NAMES = ["signal", "rec", "d1", "d2", "d3", "d4", "d5", "s5"]
DOMAINS = {
    "signal": [-.70, .72], "rec": [-.147, .171], "d1": [-.619, .634], "d2": [-.163, .119],
    "d3": [-.155, .186], "d4": [-.1375, .158], "d5": [-.099, .1077], "s5": [-.224, .386],
}
MAJOR_Y = {
    "signal": [-.4, 0, .4], "rec": [-.1, 0, .1], "d1": [-.6, -.3, 0, .3, .6],
    "d2": [-.15, -.10, -.05, 0, .05, .10], "d3": [-.1, 0, .1],
    "d4": [-.10, -.05, 0, .05, .10, .15], "d5": [-.05, 0, .05, .10], "s5": [-.2, 0, .2],
}
MINOR_Y = {
    "signal": [-.6, -.2, .2, .6], "rec": [-.05, .05, .15], "d1": [-.45, -.15, .15, .45],
    "d2": [-.125, -.075, -.025, .025, .075], "d3": [-.15, -.05, .05, .15],
    "d4": [-.125, -.075, -.025, .025, .075, .125], "d5": [-.075, -.025, .025, .075], "s5": [-.1, .1, .3],
}
FORMATS = {"signal": ".1f", "rec": ".1f", "d1": ".1f", "d2": ".2f", "d3": ".1f", "d4": ".2f", "d5": ".2f", "s5": ".1f"}
ENVELOPES = {
    "signal": (sig_t, sig_up, sig_lo, sig_peaks),
    "rec": (ENV_T, rec_up, rec_lo, rec_peaks),
    "d1": (d1_t, d1_up, d1_lo, d1_peaks),
    "d2": (ENV_T, d2_up, d2_lo, d2_peaks),
    "d3": (ENV_T, d3_up, d3_lo, d3_peaks),
    "d4": (ENV_T, d4_up, d4_lo, d4_peaks),
}
# how much of each read envelope is solid; the rest of it is drawn as separate peaks
SOLID = {"signal": 0.9, "rec": 0.86, "d1": 0.96, "d2": 0.75, "d3": 0.85, "d4": 0.92}
LINES = {"d5": (d5_t, d5_v), "s5": (s5_t, s5_v)}

W, H = 3491, 296
GRID = "#EBEBEB"
xs = alt.Scale(domain=[45, 155], nice=False, zero=False)


def panel(name, last):
    ys = alt.Scale(domain=DOMAINS[name], nice=False, zero=False)
    xaxis = alt.Axis(
        values=MAJOR_X, grid=True, gridColor=GRID, gridWidth=6, domain=False, ticks=False,
        labels=last, title="time (s)" if last else None, format="d",
        labelFont=FONT, labelFontSize=51, labelColor="#4D4D4D", labelPadding=20,
        titleFont=FONT, titleFontSize=63.5, titleFontWeight="normal", titleColor="#000000", titlePadding=12,
    )
    yaxis = alt.Axis(
        values=MAJOR_Y[name], grid=True, gridColor=GRID, gridWidth=6, domain=False, ticks=False,
        title=None, format=FORMATS[name], labelFont=FONT, labelFontSize=51, labelColor="#4D4D4D",
        labelPadding=22, labelOverlap=False, labelBound=False, labelFlush=False,
        minExtent=174, maxExtent=174,
    )
    grid_x = alt.Chart(pd.DataFrame({"t": MINOR_X})).mark_rule(color=GRID, strokeWidth=3).encode(
        x=alt.X("t:Q", scale=xs, axis=xaxis)
    )
    grid_y = alt.Chart(pd.DataFrame({"v": MINOR_Y[name]})).mark_rule(color=GRID, strokeWidth=3).encode(
        y=alt.Y("v:Q", scale=ys, axis=yaxis)
    )
    layers = [grid_x, grid_y]
    if name in ENVELOPES:
        t, up, lo, peaks = ENVELOPES[name]
        up_a, lo_a = np.array(up, dtype=float), np.array(lo, dtype=float)
        mid = (up_a + lo_a) / 2
        k = SOLID[name]
        layers.append(
            alt.Chart(pd.DataFrame({"t": t, "up": mid + (up_a - mid) * k, "lo": mid + (lo_a - mid) * k}))
            .mark_area(color="#000000", stroke="#000000", strokeWidth=3, strokeJoin="round", opacity=1)
            .encode(x=alt.X("t:Q", scale=xs, axis=xaxis), y=alt.Y("up:Q", scale=ys, axis=yaxis), y2="lo:Q")
        )
        pk_t = [p[0] for p in peaks] + list(t) + list(t)
        pk_v = [p[1] for p in peaks] + list(up) + list(lo)
        layers.append(
            alt.Chart(pd.DataFrame({"t": pk_t, "v": pk_v, "base": np.interp(pk_t, t, mid)}))
            .mark_rule(color="#000000", strokeWidth=8)
            .encode(x=alt.X("t:Q", scale=xs, axis=xaxis), y=alt.Y("v:Q", scale=ys, axis=yaxis), y2="base:Q")
        )
    else:
        t, v = LINES[name]
        layers.append(
            alt.Chart(pd.DataFrame({"t": t, "v": v, "o": list(range(len(t)))}))
            .mark_line(color="#000000", strokeWidth=7, strokeJoin="round", interpolate="monotone")
            .encode(x=alt.X("t:Q", scale=xs, axis=xaxis), y=alt.Y("v:Q", scale=ys, axis=yaxis), order="o:Q")
        )
    layers.append(
        alt.Chart(pd.DataFrame({"label": [name]}))
        .mark_text(angle=90, font=FONT, fontSize=63.5, color="#1A1A1A", baseline="middle", align="center")
        .encode(text="label:N", x=alt.value(W + 49), y=alt.value(H / 2))
    )
    return alt.layer(*layers).properties(width=W, height=H)


chart = (
    alt.vconcat(*[panel(n, n == NAMES[-1]) for n in NAMES], spacing=24, bounds="flush")
    .properties(padding={"left": 0, "top": 27, "right": 5, "bottom": 5})
    .configure_view(stroke=None)
)
chart.save("out.html", embed_options={"renderer": "svg", "actions": False})
